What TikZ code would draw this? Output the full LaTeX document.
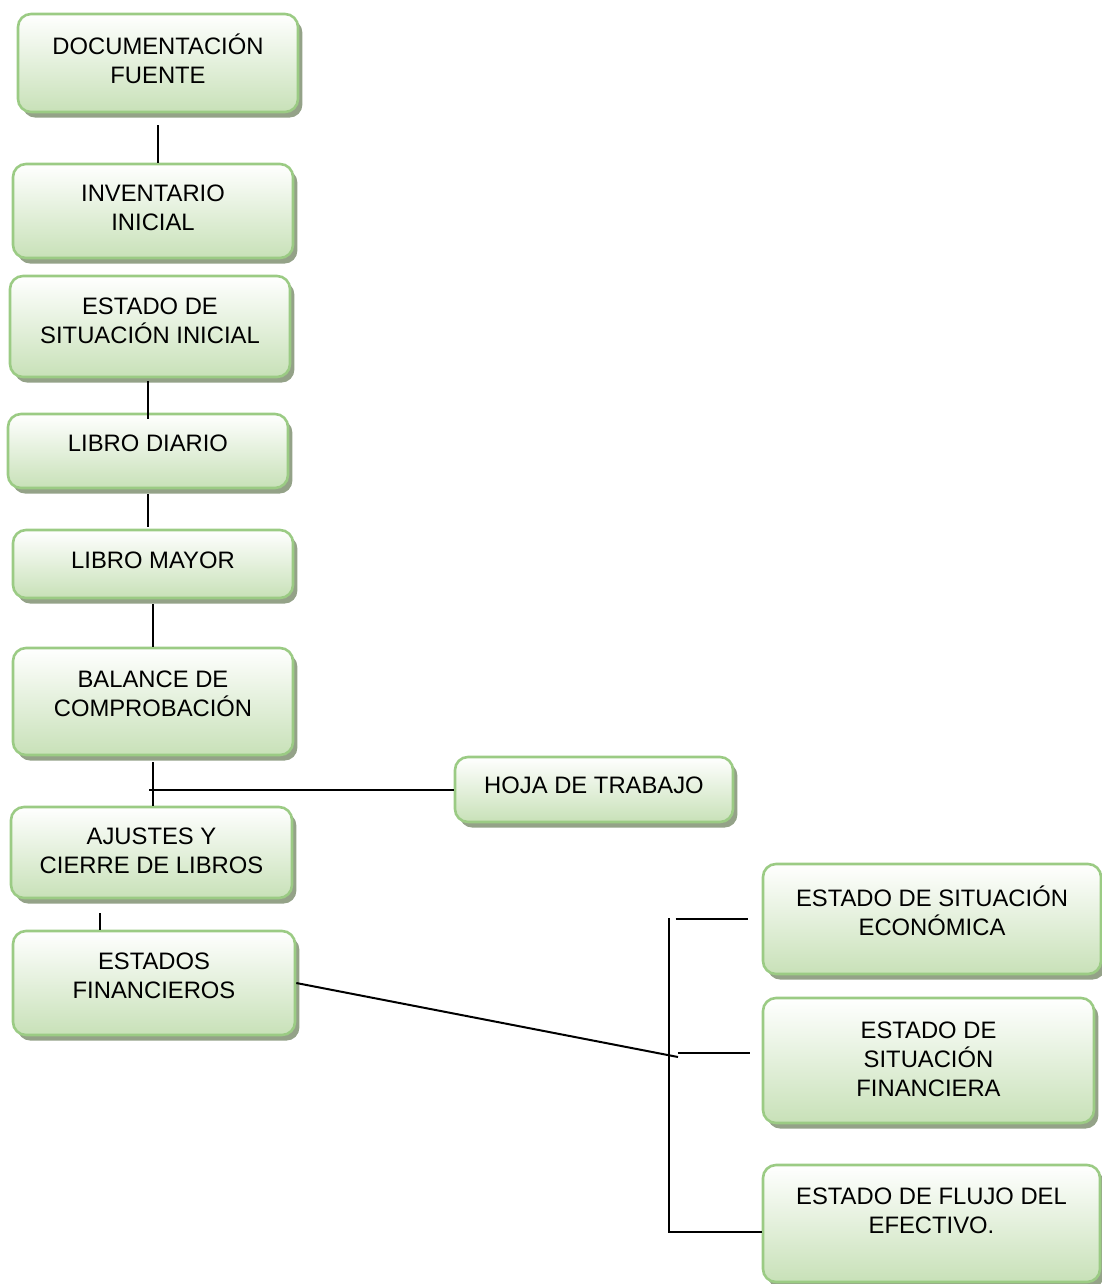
\documentclass[tikz,border=0pt]{standalone}
\usepackage{fontspec}
\setmainfont{Liberation Sans}
\usetikzlibrary{shadows}

\definecolor{boxfill}{RGB}{200,225,184}
\definecolor{boxline}{RGB}{155,203,132}
\definecolor{boxshadow}{RGB}{148,162,136}

\tikzset{
  box/.style 2 args={draw=boxline, line width=1.3pt, rounded corners=6.5pt,
    top color=white, bottom color=boxfill,
    drop shadow={shadow xshift=2.2pt, shadow yshift=-2.8pt, fill=boxshadow, opacity=1},
    minimum width=#1, minimum height=#2, inner sep=0pt},
  txt/.style={align=center, font=\fontsize{11.9}{14.6}\selectfont, inner sep=0pt},
  link/.style={line width=1pt}
}

\begin{document}
\begin{tikzpicture}[x=0.5pt, y=-0.5pt]
  \useasboundingbox (0,0) rectangle (1102,1284);

  % main column
  \node[box={140pt}{49pt}, label={[txt,yshift=2pt]center:{DOCUMENTACIÓN\\FUENTE}}] (doc) at (158,63) {};
  \node[box={140pt}{47pt}, label={[txt,yshift=1.5pt]center:{INVENTARIO\\INICIAL}}] (inv) at (153,211) {};
  \node[box={140pt}{50.5pt}, label={[txt,yshift=3pt]center:{ESTADO DE\\SITUACIÓN INICIAL}}] (esi) at (150,326.5) {};
  \node[box={140pt}{37pt}, label={[txt,yshift=4pt]center:{LIBRO DIARIO}}] (diario) at (148,451) {};
  \node[box={140pt}{34pt}, label={[txt,yshift=2pt]center:{LIBRO MAYOR}}] (mayor) at (153,564) {};
  \node[box={140pt}{53.5pt}, label={[txt,yshift=4pt]center:{BALANCE DE\\COMPROBACIÓN}}] (balance) at (153,701.5) {};
  \node[box={139pt}{32.5pt}, label={[txt,yshift=2.25pt]center:{HOJA DE TRABAJO}}] (hoja) at (594,789.5) {};
  \node[box={140.5pt}{45.5pt}, label={[txt,yshift=1pt]center:{AJUSTES Y\\CIERRE DE LIBROS}}] (ajustes) at (151.5,852.5) {};
  \node[box={141pt}{52pt}, label={[txt,yshift=3.75pt]center:{ESTADOS\\FINANCIEROS}}] (ef) at (154,983) {};

  % estados financieros
  \node[box={169pt}{55pt}, label={[txt,yshift=4.25pt]center:{ESTADO DE SITUACIÓN\\ECONÓMICA}}] (eco) at (932,919) {};
  \node[box={165.5pt}{62.5pt}, label={[txt,yshift=0.5pt]center:{ESTADO DE\\SITUACIÓN\\FINANCIERA}}] (fin) at (928.5,1060.5) {};
  \node[box={168.5pt}{58.5pt}, label={[txt,yshift=6.5pt]center:{ESTADO DE FLUJO DEL\\EFECTIVO.}}] (flujo) at (931.5,1223.5) {};

  % links down the column
  \draw[link, shorten <=6pt] (doc.south) -- (doc.south |- inv.north);
  \draw[link, shorten >=1.5pt] ([yshift=-3pt]diario.north) -- (diario.north |- esi.south);
  \draw[link, shorten <=2.5pt, shorten >=1pt] (diario.south) -- (diario.south |- mayor.north);
  \draw[link, shorten <=2.5pt] (mayor.south) -- (mayor.south |- balance.north);
  \draw[link, shorten <=3pt] (balance.south) -- (balance.south |- ajustes.north);
  \draw[link, shorten >=-2pt] (hoja.west) -- (hoja.west -| balance.south);
  \coordinate (efn) at ([xshift=-27pt]ef.north);
  \draw[link, shorten >=7pt] (efn) -- (efn |- ajustes.south);

  % bracket
  \coordinate (fork) at (678,1057);
  \coordinate (brtop) at (669,918);
  \coordinate (brbot) at (669,1232);
  \draw[link] (ef.east) -- (fork);
  \draw[link] (brtop) -- (brbot) -- (brbot -| flujo.west);
  \draw[link] ([xshift=-43pt]eco.west) -- ([xshift=-7pt]eco.west);
  \draw[link] ([shift={(-42pt,4pt)}]fin.west) -- ([shift={(-6pt,4pt)}]fin.west);
\end{tikzpicture}
\end{document}
